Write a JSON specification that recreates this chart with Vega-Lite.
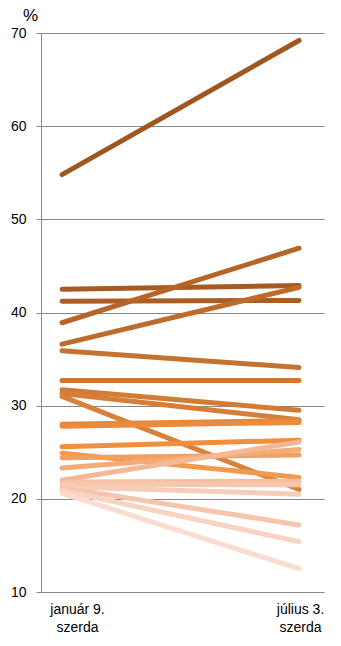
{
  "$schema": "https://vega.github.io/schema/vega-lite/v6.json",
  "width": 283,
  "height": 559,
  "autosize": {"type": "none"},
  "padding": {"left": 41, "top": 33, "right": 17, "bottom": 54},
  "background": "white",
  "config": {"view": {"stroke": null}, "font": "Liberation Sans"},
  "data": {"values": [
    {"id": "A", "date": "január 9.", "value": 54.8}, {"id": "A", "date": "július 3.", "value": 69.2},
    {"id": "B", "date": "január 9.", "value": 42.5}, {"id": "B", "date": "július 3.", "value": 42.9},
    {"id": "C", "date": "január 9.", "value": 41.2}, {"id": "C", "date": "július 3.", "value": 41.3},
    {"id": "D", "date": "január 9.", "value": 38.9}, {"id": "D", "date": "július 3.", "value": 46.9},
    {"id": "E", "date": "január 9.", "value": 36.6}, {"id": "E", "date": "július 3.", "value": 42.7},
    {"id": "F", "date": "január 9.", "value": 35.9}, {"id": "F", "date": "július 3.", "value": 34.1},
    {"id": "G", "date": "január 9.", "value": 32.7}, {"id": "G", "date": "július 3.", "value": 32.7},
    {"id": "H", "date": "január 9.", "value": 31.7}, {"id": "H", "date": "július 3.", "value": 29.5},
    {"id": "I", "date": "január 9.", "value": 31.3}, {"id": "I", "date": "július 3.", "value": 28.5},
    {"id": "J", "date": "január 9.", "value": 31.0}, {"id": "J", "date": "július 3.", "value": 21.0},
    {"id": "K", "date": "január 9.", "value": 28.0}, {"id": "K", "date": "július 3.", "value": 28.4},
    {"id": "L", "date": "január 9.", "value": 27.8}, {"id": "L", "date": "július 3.", "value": 28.2},
    {"id": "M", "date": "január 9.", "value": 25.6}, {"id": "M", "date": "július 3.", "value": 26.3},
    {"id": "N", "date": "január 9.", "value": 24.9}, {"id": "N", "date": "július 3.", "value": 22.3},
    {"id": "O", "date": "január 9.", "value": 24.4}, {"id": "O", "date": "július 3.", "value": 24.7},
    {"id": "P", "date": "január 9.", "value": 23.3}, {"id": "P", "date": "július 3.", "value": 25.3},
    {"id": "R", "date": "január 9.", "value": 22.0}, {"id": "R", "date": "július 3.", "value": 26.1},
    {"id": "S", "date": "január 9.", "value": 21.8}, {"id": "S", "date": "július 3.", "value": 21.9},
    {"id": "T", "date": "január 9.", "value": 21.6}, {"id": "T", "date": "július 3.", "value": 21.5},
    {"id": "U", "date": "január 9.", "value": 21.3}, {"id": "U", "date": "július 3.", "value": 20.5},
    {"id": "V", "date": "január 9.", "value": 21.2}, {"id": "V", "date": "július 3.", "value": 17.2},
    {"id": "W", "date": "január 9.", "value": 20.9}, {"id": "W", "date": "július 3.", "value": 15.4},
    {"id": "X", "date": "január 9.", "value": 20.6}, {"id": "X", "date": "július 3.", "value": 12.5}
  ]},
  "mark": {"type": "line", "strokeWidth": 5, "strokeCap": "round"},
  "encoding": {
    "x": {
      "field": "date",
      "type": "ordinal",
      "scale": {"type": "point", "domain": ["január 9.", "július 3."], "padding": 0.097, "align": 0.457},
      "axis": {
        "title": null,
        "domain": false,
        "ticks": false,
        "grid": false,
        "labelAngle": 0,
        "labelFontSize": 14,
        "labelColor": "#000",
        "labelPadding": 10,
        "labelBaseline": "top",
        "labelLineHeight": 18,
        "labelExpr": "[datum.label, 'szerda']",
        "labelOffset": {"condition": {"test": "datum.value === 'január 9.'", "value": 15}, "value": 1}
      }
    },
    "y": {
      "field": "value",
      "type": "quantitative",
      "scale": {"domain": [10, 70], "nice": false, "zero": false},
      "axis": {
        "title": "%",
        "titleAngle": 0,
        "titleX": -11,
        "titleY": -13,
        "titleAlign": "center",
        "titleBaseline": "alphabetic",
        "titleFontSize": 17,
        "titleFontWeight": "normal",
        "titleColor": "#000",
        "values": [10, 20, 30, 40, 50, 60, 70],
        "labelFontSize": 14,
        "labelColor": "#000",
        "labelPadding": 10,
        "labelFlush": false,
        "tickSize": 5,
        "tickColor": "#888",
        "domainColor": "#888",
        "gridColor": "#888",
        "grid": true
      }
    },
    "color": {
      "field": "id",
      "type": "nominal",
      "scale": {
        "domain": ["A","B","C","D","E","F","G","H","I","J","K","L","M","N","O","P","R","S","T","U","V","W","X"],
        "range": ["#a0571f","#a65b22","#aa5e24","#b46527","#bd6b2b","#c5712f","#cd7833","#d27b35","#d67e37","#da8139","#e4873c","#ea8b3d","#f08f40","#f0994f","#f1a060","#f3ab78","#f5b896","#f5c0a2","#f6c7ad","#f7cdb8","#f6c5ab","#f8d3c2","#f9ddd0"]
      },
      "legend": null
    }
  }
}
